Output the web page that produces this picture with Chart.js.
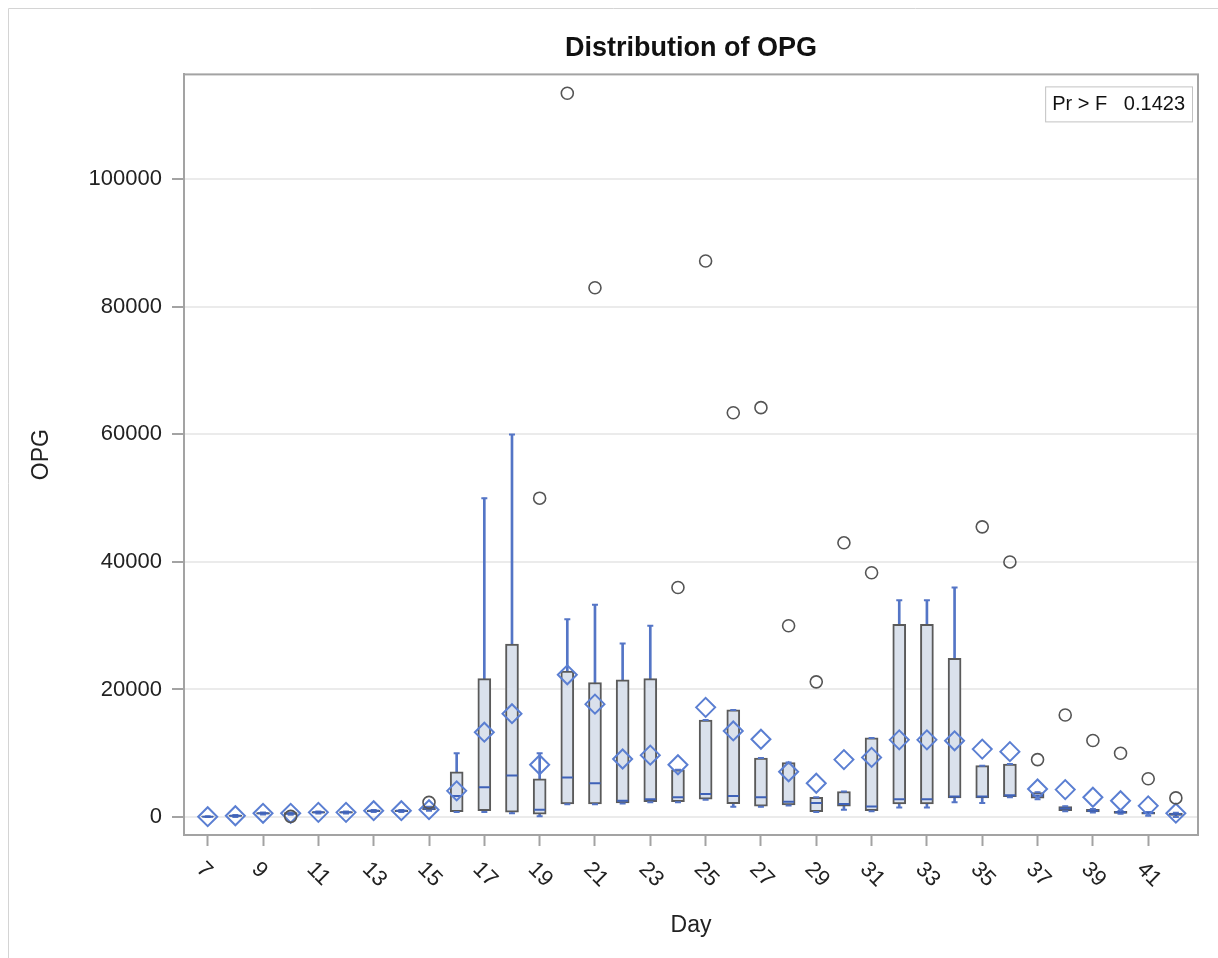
<!DOCTYPE html>
<html>
<head>
<meta charset="utf-8">
<title>Distribution of OPG</title>
<script src="https://cdn.jsdelivr.net/npm/chart.js@4.4.1/dist/chart.umd.min.js"></script>
<style>
  html, body { margin: 0; padding: 0; background: #fff; }
  #wrap { position: relative; width: 1218px; height: 958px; }
</style>
</head>
<body>
<div id="wrap"><canvas id="chart" width="1218" height="958"></canvas></div>
<script>
// OPG by day: box statistics
const days = [7, 8, 9, 10, 11, 12, 13, 14, 15, 16, 17, 18, 19, 20, 21, 22, 23, 24,
              25, 26, 27, 28, 29, 30, 31, 32, 33, 34, 35, 36, 37, 38, 39, 40, 41, 42];
const q1 = [0, 100, 450, 400, 600, 600, 850, 850, 1100, 850, 1000, 750, 450, 2050, 2050, 2200, 2400, 2400,
            2800, 2100, 1700, 1900, 850, 1700, 1000, 2050, 2050, 3000, 3000, 3200, 2950, 1000, 800, 550, 450, 250];
const medians = [50, 200, 580, 550, 730, 730, 990, 990, 1350, 3300, 4650, 6500, 1150, 6200, 5300, 2550, 2800, 3100,
                 3600, 3300, 3100, 2400, 2200, 2050, 1650, 2800, 2800, 3200, 3200, 3400, 3350, 1350, 1000, 730, 620, 450];
const q3 = [100, 300, 700, 700, 850, 850, 1100, 1100, 1600, 7100, 21700, 27100, 6000, 22900, 21100, 21500, 21700, 7400,
            15200, 16800, 9250, 8550, 3100, 4000, 12400, 30200, 30200, 24900, 8050, 8300, 3850, 1650, 1200, 900, 750, 600];
const whiskerLow = [0, 0, 400, 350, 550, 550, 800, 800, 1000, 800, 800, 600, 100, 2000, 2000, 2100, 2300, 2300,
                    2700, 1600, 1600, 1800, 800, 1150, 900, 1500, 1500, 2300, 2200, 3100, 2800, 900, 700, 500, 200, 0];
const whiskerHigh = [100, 300, 700, 700, 850, 850, 1100, 1100, 1600, 10000, 50000, 60000, 10000, 31000, 33300, 27200, 30000, 7400,
                     15200, 16800, 9250, 8550, 3100, 4000, 12400, 34000, 34000, 36000, 8050, 8300, 3900, 1700, 1250, 950, 800, 650];
const means = [50, 200, 580, 580, 730, 730, 990, 990, 1150, 4100, 13300, 16200, 8200, 22300, 17700, 9100, 9700, 8200,
               17200, 13500, 12200, 7100, 5300, 9000, 9350, 12100, 12100, 11950, 10650, 10250, 4400, 4300, 3100, 2550, 1750, 600];
const outlierDays = [10, 15, 19, 20, 21, 24, 25, 26, 27, 28, 29, 30, 31, 35, 36, 37, 38, 39, 40, 41, 42];
const outlierValues = [100, 2300, 50000, 113500, 83000, 36000, 87200, 63400, 64200, 30000, 21200, 43000, 38300,
                       45500, 40000, 9000, 16000, 12000, 10000, 6000, 3000];
const xTickDays = [7, 9, 11, 13, 15, 17, 19, 21, 23, 25, 27, 29, 31, 33, 35, 37, 39, 41];
const yTickValues = [0, 20000, 40000, 60000, 80000, 100000];
const statLabel = 'Pr > F';
const statValue = '0.1423';

const FONT = "'Liberation Sans', Arial, sans-serif";
const BLUE = '#5475c6';
const GREY_AXIS = '#a3a3a3';

const pairs = (vals) => days.map((d, i) => ({ x: d, y: vals[i] }));

// frame, rotated day labels, stat inset
const decorPlugin = {
  id: 'decor',
  beforeDraw(chart) {
    const ctx = chart.ctx;
    ctx.save();
    ctx.strokeStyle = '#d4d4d4';
    ctx.lineWidth = 1;
    ctx.beginPath();
    ctx.moveTo(8.5, chart.height);
    ctx.lineTo(8.5, 8.5);
    ctx.lineTo(chart.width, 8.5);
    ctx.stroke();
    ctx.restore();
  },
  afterDraw(chart) {
    const ctx = chart.ctx;
    const a = chart.chartArea;
    const xs = chart.scales.x;
    ctx.save();
    ctx.strokeStyle = GREY_AXIS;
    ctx.lineWidth = 2;
    ctx.strokeRect(a.left, a.top, a.right - a.left, a.bottom - a.top);

    ctx.fillStyle = '#222';
    ctx.font = '22px ' + FONT;
    ctx.textAlign = 'left';
    ctx.textBaseline = 'middle';
    xs.ticks.forEach(t => {
      const x = xs.getPixelForValue(t.value);
      ctx.save();
      ctx.translate(x - 8, a.bottom + 31);
      ctx.rotate(Math.PI / 4);
      ctx.fillText(String(t.value), 0, 0);
      ctx.restore();
    });

    ctx.font = '20px ' + FONT;
    const text = statLabel + '   ' + statValue;
    const w = ctx.measureText(text).width + 14;
    const bx = a.right - 6 - w, by = a.top + 12;
    ctx.fillStyle = '#fff';
    ctx.fillRect(bx, by, w, 35);
    ctx.strokeStyle = '#c2c2c2';
    ctx.lineWidth = 1;
    ctx.strokeRect(bx + 0.5, by + 0.5, w, 35);
    ctx.fillStyle = '#111';
    ctx.fillText(text, bx + 7, by + 18);
    ctx.restore();
  }
};

new Chart(document.getElementById('chart'), {
  type: 'bar',
  data: {
    datasets: [
      {
        label: 'whisker',
        data: days.map((d, i) => ({ x: d, y: [whiskerLow[i], whiskerHigh[i]] })),
        backgroundColor: BLUE,
        barThickness: 2,
        grouped: false,
        order: 6
      },
      {
        label: 'box',
        data: days.map((d, i) => ({ x: d, y: [q1[i], q3[i]] })),
        backgroundColor: '#dae1ec',
        borderColor: '#5a5a5a',
        borderWidth: 2,
        borderSkipped: false,
        barThickness: 13,
        grouped: false,
        order: 5
      },
      {
        type: 'scatter',
        label: 'caps',
        data: pairs(whiskerHigh).concat(pairs(whiskerLow)),
        pointStyle: 'line',
        radius: 3,
        borderColor: BLUE,
        borderWidth: 2,
        order: 4
      },
      {
        type: 'scatter',
        label: 'median',
        data: pairs(medians),
        pointStyle: 'line',
        radius: 5.5,
        borderColor: '#3f62b8',
        borderWidth: 2,
        order: 3
      },
      {
        type: 'scatter',
        label: 'mean',
        data: pairs(means),
        pointStyle: 'rectRot',
        radius: 9.5,
        borderColor: '#5b7fd2',
        backgroundColor: 'rgba(0,0,0,0)',
        borderWidth: 2,
        order: 2
      },
      {
        type: 'scatter',
        label: 'outlier',
        data: outlierDays.map((d, i) => ({ x: d, y: outlierValues[i] })),
        pointStyle: 'circle',
        radius: 6,
        borderColor: '#555',
        backgroundColor: 'rgba(0,0,0,0)',
        borderWidth: 1.6,
        order: 1
      }
    ]
  },
  options: {
    responsive: false,
    animation: false,
    layout: { padding: { top: 0, right: 20, bottom: 0, left: 0 } },
    plugins: {
      legend: { display: false },
      tooltip: { enabled: false },
      title: {
        display: true,
        text: 'Distribution of OPG',
        fullSize: false,
        color: '#111',
        font: { family: FONT, size: 27, weight: 'bold' },
        padding: { top: 32, bottom: 10 }
      }
    },
    scales: {
      x: {
        type: 'linear',
        offset: false,
        min: 6.143,
        max: 42.8,
        afterBuildTicks: s => { s.ticks = xTickDays.map(v => ({ value: v })); },
        afterFit: s => { s.height = 123; },
        ticks: { display: false },
        grid: { offset: false, drawOnChartArea: false, drawTicks: true, tickLength: 11, tickColor: GREY_AXIS, tickWidth: 2 },
        border: { color: GREY_AXIS, width: 2 },
        title: {
          display: true,
          text: 'Day',
          color: '#222',
          font: { family: FONT, size: 23 },
          padding: { top: 0, bottom: 19 }
        }
      },
      y: {
        type: 'linear',
        min: -2821,
        max: 116458,
        afterBuildTicks: s => { s.ticks = yTickValues.map(v => ({ value: v })); },
        afterFit: s => { s.width = 184; },
        ticks: {
          color: '#222',
          padding: 10,
          font: { family: FONT, size: 22 },
          callback: v => String(v)
        },
        grid: { color: '#ebebeb', lineWidth: 2, tickLength: 12, tickColor: GREY_AXIS, tickWidth: 2 },
        border: { color: GREY_AXIS, width: 2 },
        title: {
          display: true,
          text: 'OPG',
          color: '#222',
          font: { family: FONT, size: 23 },
          padding: { top: 28, bottom: 0 }
        }
      }
    }
  },
  plugins: [decorPlugin]
});
</script>
</body>
</html>
